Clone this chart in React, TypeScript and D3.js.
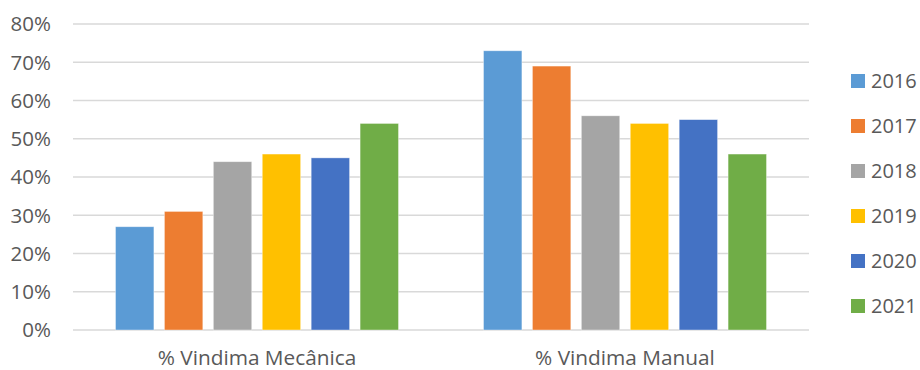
import React from "react";
import * as d3 from "d3";

const categories = ["% Vindima Mecânica", "% Vindima Manual"];
const years = ["2016", "2017", "2018", "2019", "2020", "2021"];
const mecanica = [27, 31, 44, 46, 45, 54];
const manual = [73, 69, 56, 54, 55, 46];
const yTicks = [0, 10, 20, 30, 40, 50, 60, 70, 80];
const colors = ["#5B9BD5", "#ED7D31", "#A5A5A5", "#FFC000", "#4472C4", "#70AD47"];

const W = 920;
const H = 370;
const plot = { left: 73, right: 809, top: 24, bottom: 330 };
const FONT = "'Open Sans', 'Liberation Sans', sans-serif";
const TEXT = "#595959";

export default function App() {
  const series = [mecanica, manual];
  const x0 = d3
    .scaleBand<string>()
    .domain(categories)
    .range([plot.left, plot.right])
    .paddingInner(0.231)
    .paddingOuter(0.1155);
  const x1 = d3
    .scaleBand<string>()
    .domain(years)
    .range([0, x0.bandwidth()])
    .paddingInner(0.215);
  const y = d3.scaleLinear().domain([0, 80]).range([plot.bottom, plot.top]);

  const legendY = d3.scalePoint<string>().domain(years).range([81, 306]);

  return (
    <svg
      width={W}
      height={H}
      style={{ position: "absolute", left: 0, top: 0, background: "#fff" }}
      fontFamily={FONT}
    >
      {yTicks.map((t) => (
        <g key={t}>
          <line
            x1={plot.left}
            x2={plot.right}
            y1={y(t)}
            y2={y(t)}
            stroke="#d9d9d9"
            strokeWidth={1.5}
          />
          <text
            x={51}
            y={y(t)}
            dy="0.36em"
            textAnchor="end"
            fontSize={20.5}
            fill={TEXT}
          >
            {t}%
          </text>
        </g>
      ))}
      {categories.map((c, ci) => (
        <g key={c} transform={`translate(${x0(c)},0)`}>
          {years.map((yr, yi) => (
            <rect
              key={yr}
              x={x1(yr)}
              y={y(series[ci][yi])}
              width={x1.bandwidth()}
              height={y(0) - y(series[ci][yi])}
              fill={colors[yi]}
              stroke="#ffffff"
              strokeOpacity={0.5}
              strokeWidth={0.75}
            />
          ))}
          <text
            x={x0.bandwidth() / 2}
            y={365}
            textAnchor="middle"
            fontSize={20.8}
            fill={TEXT}
          >
            {c}
          </text>
        </g>
      ))}
      {years.map((yr, i) => (
        <g key={yr} transform={`translate(851,${legendY(yr)})`}>
          <rect x={0} y={-7} width={14} height={14} fill={colors[i]} />
          <text x={20} y={0} dy="0.36em" fontSize={20} fill={TEXT}>
            {yr}
          </text>
        </g>
      ))}
    </svg>
  );
}
